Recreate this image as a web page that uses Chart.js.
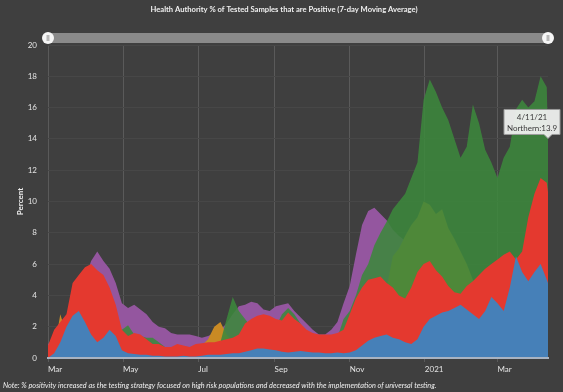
<!DOCTYPE html>
<html>
<head>
<meta charset="utf-8">
<script src="https://cdn.jsdelivr.net/npm/chart.js@4.4.1/dist/chart.umd.min.js"></script>
<style>
  html, body { margin: 0; padding: 0; background: #3f3f3f; }
</style>
</head>
<body>
<canvas id="hachart" width="563" height="392"></canvas>
<script>
// days since Mar 1 2020
const days = [
  0, 5, 10, 15, 20, 25, 30, 35, 40, 45,
  50, 55, 60, 65, 70, 75, 80, 85, 90, 95,
  100, 105, 110, 115, 120, 125, 130, 135, 140, 145,
  150, 155, 160, 165, 170, 175, 180, 185, 190, 195,
  200, 205, 210, 215, 220, 225, 230, 235, 240, 245,
  250, 255, 260, 265, 270, 275, 280, 285, 290, 295,
  300, 305, 310, 315, 320, 325, 330, 335, 340, 345,
  350, 355, 360, 365, 370, 375, 380, 385, 390, 395,
  400, 405, 406
];

const vancouverCoastal = [
  0, 0.3, 1.0, 2.0, 2.7, 3.0, 2.3, 1.5, 1.0, 1.3,
  1.8, 1.4, 0.5, 0.3, 0.25, 0.2, 0.2, 0.15, 0.15, 0.1,
  0.1, 0.1, 0.15, 0.1, 0.1, 0.15, 0.2, 0.2, 0.2, 0.25,
  0.3, 0.3, 0.4, 0.5, 0.6, 0.6, 0.55, 0.5, 0.4, 0.35,
  0.4, 0.45, 0.4, 0.35, 0.35, 0.3, 0.3, 0.35, 0.3, 0.35,
  0.5, 0.8, 1.1, 1.3, 1.4, 1.5, 1.3, 1.2, 1.0, 0.9,
  1.2, 2.0, 2.5, 2.7, 2.9, 3.0, 3.2, 3.4, 3.1, 2.8,
  2.5, 3.0, 3.9, 3.5, 3.0, 4.5, 6.5, 5.5, 4.9, 5.5,
  6.0, 5.0, 4.8
];

const fraser = [
  0.8, 1.8, 2.3, 2.8, 4.8, 5.3, 5.8, 6.0, 5.6, 5.3,
  4.5, 3.4, 1.8, 1.4, 1.6, 1.5, 1.2, 0.9, 0.9, 0.7,
  0.7, 0.9, 0.8, 0.7, 0.9, 0.95, 1.0, 1.0, 1.1, 1.2,
  1.3, 1.5, 2.2, 2.5, 2.7, 2.8, 2.7, 2.5, 2.4, 2.9,
  2.5, 2.2, 1.8, 1.6, 1.5, 1.5, 1.5, 1.6, 1.8, 2.8,
  3.8, 4.5, 5.0, 5.1, 5.2, 4.8, 4.5, 4.0, 3.8, 4.5,
  5.5, 6.0, 6.2, 5.6, 5.2, 4.6, 4.2, 4.1, 4.6, 4.9,
  5.3, 5.7, 6.0, 6.3, 6.6, 6.8, 6.3, 6.8, 9.0, 10.5,
  11.5, 11.2, 10.6
];

const northern = [
  0, 0.3, 0.6, 0.9, 1.2, 1.4, 1.5, 1.4, 1.3, 1.4,
  1.5, 1.6, 1.8, 2.1, 1.5, 1.4, 1.3, 1.3, 1.0, 0.7,
  0.5, 0.5, 0.5, 0.4, 0.4, 0.4, 0.5, 0.8, 1.0, 2.5,
  3.9, 3.0, 2.5, 2.0, 1.8, 1.5, 1.5, 2.0, 2.8, 3.2,
  2.8, 2.2, 1.5, 1.2, 1.0, 0.9, 1.0, 1.3, 2.5, 3.0,
  4.0, 5.3, 6.0, 7.2, 8.0, 8.7, 9.5, 10.0, 10.5, 11.5,
  12.5, 16.5, 17.8, 17.0, 16.0, 15.2, 14.0, 12.8, 13.5, 16.2,
  15.0, 13.3, 12.5, 11.5, 12.8, 13.5, 15.9, 16.5, 16.0, 16.4,
  18.0, 17.3, 13.9
];

const interior = [
  0, 0.5, 2.8, 1.5, 1.2, 1.0, 0.9, 0.8, 0.8, 0.7,
  0.6, 0.5, 0.5, 0.4, 0.4, 0.4, 0.3, 0.3, 0.3, 0.3,
  0.3, 0.3, 0.3, 0.4, 0.6, 0.8, 1.2, 2.0, 2.3, 1.5,
  1.0, 0.8, 0.6, 0.5, 0.5, 0.5, 0.6, 0.6, 0.6, 0.7,
  0.7, 0.6, 0.6, 0.6, 0.7, 0.8, 1.0, 1.2, 1.5, 1.8,
  2.2, 2.5, 2.8, 3.0, 3.5, 4.5, 6.5, 7.0, 7.8, 8.5,
  9.0, 10.0, 9.8, 9.2, 9.5, 8.3, 7.6, 6.8, 6.0, 5.0,
  4.5, 4.2, 4.0, 3.8, 3.5, 3.5, 3.5, 3.8, 4.0, 4.2,
  4.5, 4.6, 4.5
];

const island = [
  0.9, 1.2, 1.5, 2.0, 3.0, 4.0, 5.0, 6.2, 6.8, 6.2,
  5.7, 4.8, 3.5, 3.2, 3.4, 3.1, 2.8, 2.3, 2.0, 1.9,
  1.6, 1.5, 1.5, 1.5, 1.4, 1.3, 1.4, 1.6, 1.8, 2.2,
  2.8, 3.3, 3.4, 3.6, 3.5, 3.1, 3.0, 3.3, 3.4, 3.5,
  3.0, 2.6, 2.2, 1.8, 1.5, 1.5, 1.8, 2.3, 3.5, 4.6,
  6.6, 8.5, 9.4, 9.6, 9.2, 8.8, 8.2, 7.8, 7.5, 7.2,
  7.0, 7.5, 7.2, 6.5, 6.0, 5.5, 5.0, 4.5, 4.2, 4.0,
  4.0, 4.0, 4.2, 4.5, 4.8, 5.0, 5.2, 5.5, 5.8, 6.0,
  6.0, 5.8, 5.6
];

const tickDays = [0, 61, 122, 184, 245, 306, 365];
const tickLabels = ['Mar', 'May', 'Jul', 'Sep', 'Nov', '2021', 'Mar'];

const titleText = 'Health Authority % of Tested Samples that are Positive (7-day Moving Average)';
const noteText = 'Note: % positivity increased as the testing strategy focused on high risk populations and decreased with the implementation of universal testing.';
const hoverSeries = 'Northern';

function toPoints(vals) {
  return days.map((d, i) => ({ x: d, y: vals[i] }));
}

function area(label, vals, color) {
  return {
    label: label,
    data: toPoints(vals),
    backgroundColor: color,
    borderColor: 'rgba(0,0,0,0)',
    borderWidth: 1,
    fill: 'origin',
    pointRadius: 0,
    tension: 0
  };
}

function fitFont(ctx, text, style, width) {
  ctx.font = style + ' 10px Lato';
  const s = 10 * width / ctx.measureText(text).width;
  ctx.font = style + ' ' + s.toFixed(2) + 'px Lato';
}

const decor = {
  id: 'decor',
  beforeDraw(chart) {
    const ctx = chart.ctx;
    ctx.save();
    ctx.fillStyle = '#3f3f3f';
    ctx.fillRect(0, 0, chart.width, chart.height);
    ctx.restore();
  },
  afterDraw(chart) {
    const ctx = chart.ctx;
    const a = chart.chartArea;
    ctx.save();

    // title + note
    ctx.fillStyle = '#f0f0f0';
    ctx.textBaseline = 'middle';
    ctx.textAlign = 'center';
    fitFont(ctx, titleText, 'bold', 267);
    ctx.fillText(titleText, 284, 10);
    ctx.textAlign = 'left';
    fitFont(ctx, noteText, 'italic', 434);
    ctx.fillText(noteText, 3, 386);

    // y title
    ctx.save();
    ctx.translate(20, (a.top + a.bottom) / 2);
    ctx.rotate(-Math.PI / 2);
    ctx.textAlign = 'center';
    ctx.font = 'bold 8px Lato';
    ctx.fillText('Percent', 0, 0);
    ctx.restore();

    // range slider
    ctx.fillStyle = '#8a8a8a';
    ctx.fillRect(a.left, 33, a.right - a.left, 10);
    [a.left, a.right].forEach(hx => {
      ctx.beginPath();
      ctx.arc(hx, 38, 6, 0, Math.PI * 2);
      ctx.fillStyle = '#f6f6f6';
      ctx.fill();
      ctx.fillStyle = '#b8b8b8';
      ctx.fillRect(hx - 1.5, 35, 3, 6);
    });

    // hover label on the last Northern point
    const ds = chart.data.datasets.find(d => d.label === hoverSeries);
    const last = ds.data[ds.data.length - 1];
    const px = chart.scales.x.getPixelForValue(last.x);
    const py = chart.scales.y.getPixelForValue(last.y);
    const dt = new Date(2020, 2, 1 + last.x);
    const dateStr = (dt.getMonth() + 1) + '/' + dt.getDate() + '/' + String(dt.getFullYear()).slice(2);
    const right = px + 12, left = px - 44, bottom = py - 6, top = bottom - 25;
    ctx.beginPath();
    ctx.moveTo(left, top);
    ctx.lineTo(right, top);
    ctx.lineTo(right, bottom);
    ctx.lineTo(px + 4, bottom);
    ctx.lineTo(px, bottom + 4);
    ctx.lineTo(px - 4, bottom);
    ctx.lineTo(left, bottom);
    ctx.closePath();
    ctx.fillStyle = 'rgba(236,238,236,0.96)';
    ctx.fill();
    ctx.strokeStyle = '#9a9a9a';
    ctx.lineWidth = 1;
    ctx.stroke();
    ctx.fillStyle = '#3a3a3a';
    ctx.textAlign = 'center';
    ctx.font = '8px Lato';
    ctx.fillText(dateStr, (left + right) / 2, top + 7.5);
    ctx.fillText(hoverSeries + ':' + last.y.toFixed(1), (left + right) / 2, top + 19);

    ctx.restore();
  }
};

const haChart = new Chart(document.getElementById('hachart'), {
  type: 'line',
  data: {
    datasets: [
      area('Vancouver Coastal', vancouverCoastal, '#4680b8'),
      area('Fraser', fraser, '#e4392f'),
      area('Northern', northern, 'rgba(60,136,60,0.88)'),
      area('Interior', interior, '#c98a24'),
      area('Island', island, '#94569f')
    ]
  },
  options: {
    responsive: false,
    animation: false,
    events: [],
    layout: { padding: { top: 45, right: 15, bottom: 14, left: 0 } },
    plugins: {
      legend: { display: false },
      tooltip: { enabled: false }
    },
    scales: {
      x: {
        type: 'linear',
        min: 0,
        max: 406,
        afterBuildTicks: s => { s.ticks = tickDays.map(v => ({ value: v })); },
        afterFit: s => { s.height = 20; },
        ticks: {
          autoSkip: false,
          maxRotation: 0,
          align: 'start',
          padding: 3,
          color: '#e4e4e4',
          font: { family: 'Lato', size: 8 },
          callback: (v, i) => tickLabels[i]
        },
        grid: { color: '#5a5a5a', tickLength: 4 },
        border: { color: '#a8b3c2', width: 2, z: 1 }
      },
      y: {
        min: 0,
        max: 20,
        afterFit: s => { s.width = 48; },
        ticks: {
          stepSize: 2,
          padding: 11,
          color: '#e4e4e4',
          font: { family: 'Lato', size: 8 }
        },
        grid: { color: '#474747', drawTicks: false },
        border: { display: false }
      }
    }
  },
  plugins: [decor]
});
</script>
</body>
</html>
